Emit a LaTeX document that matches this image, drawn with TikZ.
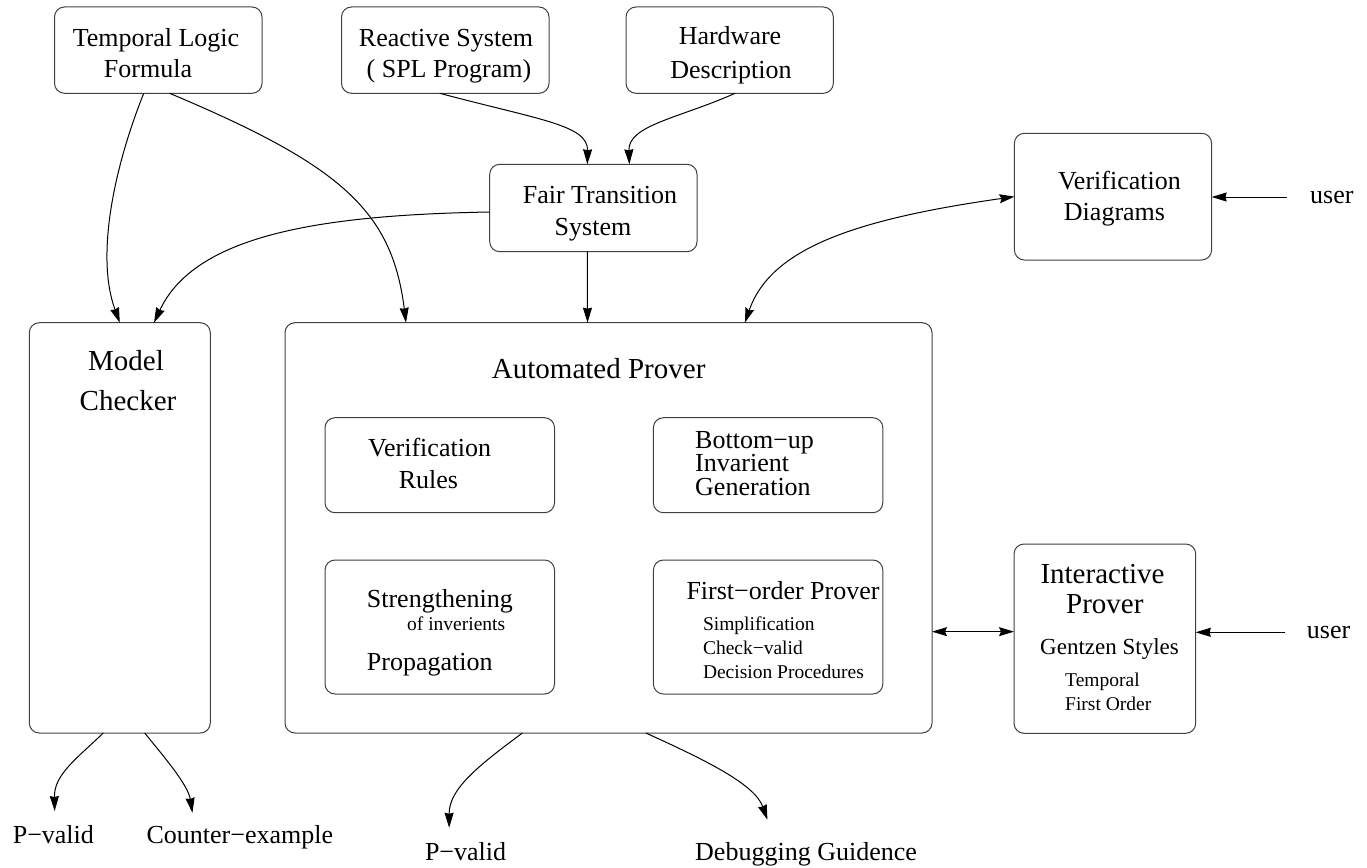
\documentclass[tikz,border=0pt]{standalone}
\usepackage{fontspec}
\setmainfont{Liberation Serif}
\usetikzlibrary{arrows.meta,fit}

\def \boxRadius {10pt}
\def \tipLen {15pt}

\tikzset{
  box/.style={draw=black!75, line width=1pt, rounded corners=\boxRadius, inner sep=0pt, outer sep=0pt},
  txt/.style={inner sep=0pt, anchor=base},
  txtl/.style={inner sep=0pt, anchor=base west},
  fbig/.style={font=\fontsize{29}{34}\selectfont},
  fnorm/.style={font=\fontsize{26}{30}\selectfont},
  fmed/.style={font=\fontsize{23}{27}\selectfont},
  fsmall/.style={font=\fontsize{19.5}{23}\selectfont},
  arr/.style={line width=1pt, -{Stealth[length=\tipLen,width=9pt,inset=1pt]}},
  darr/.style={line width=1pt, {Stealth[length=\tipLen,width=9pt,inset=2pt]}-{Stealth[length=\tipLen,width=9pt,inset=2pt]}}
}

\begin{document}
\begin{tikzpicture}[x=1pt, y=-1pt]
  \useasboundingbox (0,0) rectangle (1367,867);

  % inputs
  \node[box, fit={(54.5,7) (262,93.3)}] (tlf) {};
  \node[txt, fnorm] (tlf1) at (156,46.7) {Temporal Logic};
  \node[txt, fnorm] (tlf2) at (148,77.3) {Formula};
  \node[box, fit={(341.5,7) (549,93.3)}] (rs) {};
  \node[txt, fnorm] (rs1) at (446,46.7) {Reactive System};
  \node[txt, fnorm] (rs2) at (449,77.3) {( SPL Program)};
  \node[box, fit={(626,7) (833.3,93.3)}] (hw) {};
  \node[txt, fnorm] (hw1) at (730,45) {Hardware};
  \node[txt, fnorm] (hw2) at (731,78) {Description};
  \node[box, fit={(489.7,164.3) (697,251.7)}] (fts) {};
  \node[txt, fnorm] (fts1) at (600,203) {Fair Transition};
  \node[txt, fnorm] (fts2) at (593,235) {System};
  \node[box, fit={(1014.4,133.3) (1211.6,260)}] (vd) {};
  \node[txt, fnorm] (vd1) at (1119.4,189.3) {Verification};
  \node[txt, fnorm] (vd2) at (1114.5,220) {Diagrams};
  \node[txtl, fnorm] (u1) at (1310,203) {user};

  % checkers and provers
  \node[box, fit={(29.3,322.7) (210.3,733)}] (mc) {};
  \node[txt, fbig] (mc1) at (126,370) {Model};
  \node[txt, fbig] (mc2) at (128,410) {Checker};
  \node[box, fit={(285,322.7) (932,733)}] (ap) {};
  \node[txt, fbig] (ap1) at (598.7,378.3) {Automated Prover};
  \node[box, fit={(325,417.7) (554.5,512.7)}] (vr) {};
  \node[txt, fnorm] (vr1) at (429.6,456.7) {Verification};
  \node[txt, fnorm] (vr2) at (428.4,488.3) {Rules};
  \node[box, fit={(653.4,417.7) (882.8,512.7)}] (bu) {};
  \node[txtl, fnorm] (bu1) at (695,448.3) {Bottom−up};
  \node[txtl, fnorm] (bu2) at (695,471.7) {Invarient};
  \node[txtl, fnorm] (bu3) at (695,495.7) {Generation};
  \node[box, fit={(325,560) (554.5,694)}] (sp) {};
  \node[txtl, fnorm] (sp1) at (366.7,607.3) {Strengthening};
  \node[txtl, fsmall] (sp2) at (407,630) {of inverients};
  \node[txtl, fnorm] (sp3) at (366.7,670) {Propagation};
  \node[box, fit={(653.4,560) (882.8,694)}] (fo) {};
  \node[txtl, fnorm] (fo1) at (686.3,599.3) {First−order Prover};
  \node[txtl, fsmall] (fo2) at (702.8,630.7) {Simplification};
  \node[txtl, fsmall] (fo3) at (702.8,654.3) {Check−valid};
  \node[txtl, fsmall] (fo4) at (702.8,678.3) {Decision Procedures};
  \node[box, fit={(1014,544) (1195.7,733.3)}] (ip) {};
  \node[txt, fbig] (ip1) at (1102.5,583.3) {Interactive};
  \node[txt, fbig] (ip2) at (1104.8,613.3) {Prover};
  \node[txtl, fmed] (ip3) at (1040,654.3) {Gentzen Styles};
  \node[txtl, fsmall] (ip4) at (1065,686.7) {Temporal};
  \node[txtl, fsmall] (ip5) at (1065,710) {First Order};
  \node[txtl, fnorm] (u2) at (1306.7,638.3) {user};
  \coordinate (ipl) at ([yshift=7pt]ip.west);

  % results
  \node[txtl, fnorm] (pv1) at (12.6,843.3) {P−valid};
  \node[txtl, fnorm] (ce) at (146.4,843.3) {Counter−example};
  \node[txtl, fnorm] (pv2) at (424.8,860) {P−valid};
  \node[txtl, fnorm] (dg) at (695,860) {Debugging Guidence};

  % connectors
  \draw[arr] ([xshift=-14.5pt]tlf.south) .. controls (115,165) and (95,255) .. (mc.north);
  \draw[arr] ([xshift=11.4pt]tlf.south) .. controls (340,165) and (392,210) .. ([xshift=-202.5pt]ap.north);
  \draw[arr] ([xshift=-5.5pt]rs.south) .. controls (540,120) and (588,125) .. ([xshift=-6pt]fts.north);
  \draw[arr] ([xshift=5.4pt]hw.south) .. controls (680,118) and (628,125) .. ([xshift=36pt]fts.north);
  \draw[arr] ([yshift=-4pt]fts.west) .. controls (320,215) and (195,235) .. ([xshift=34.2pt]mc.north);
  \draw[arr] ([xshift=-6pt]fts.south) -- ([xshift=-21pt]ap.north);
  \draw[darr] ([xshift=136.4pt]ap.north) .. controls (770,250) and (850,220) .. (vd.west);
  \draw[arr] ([xshift=-23pt]u1.west) -- (u1.west -| vd.east);
  \draw[darr] (ap.east |- ipl) -- (ipl);
  \draw[arr] ([xshift=-21.7pt]u2.west) -- (u2.west -| ip.east);
  \draw[arr] ([xshift=-16.5pt]mc.south) .. controls (75,760) and (54,775) .. ([xshift=1.3pt,yshift=14pt]pv1.north);
  \draw[arr] ([xshift=24.9pt]mc.south) .. controls (165,758) and (188,785) .. ([xshift=-47.4pt,yshift=12.3pt]ce.north);
  \draw[arr] ([xshift=-86.1pt]ap.south) .. controls (475,768) and (449,790) .. ([xshift=-16.4pt,yshift=14pt]pv2.north);
  \draw[arr] ([xshift=37.3pt]ap.south) .. controls (710,762) and (755,785) .. ([xshift=-38.6pt,yshift=22pt]dg.north);
\end{tikzpicture}
\end{document}
